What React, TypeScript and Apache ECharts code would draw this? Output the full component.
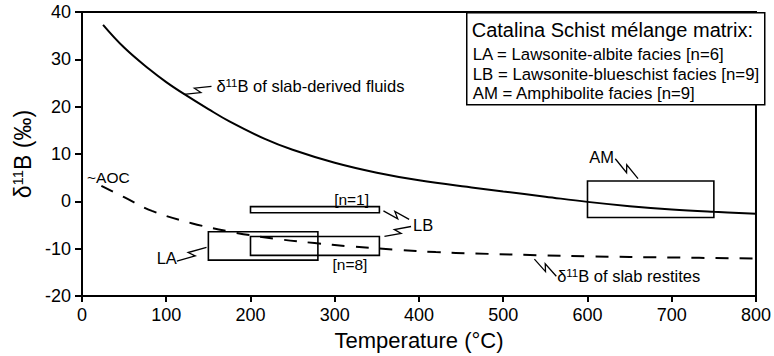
import React, { useEffect, useRef } from "react";
import * as echarts from "echarts";

const FONT = "'Liberation Sans', Arial, Helvetica, sans-serif";
const INK = "#000";

// δ11B of slab-derived fluids vs temperature
const fluidTemps = [25, 50, 80, 100, 121, 150, 175, 217, 250, 300, 350, 400, 467, 500, 550, 600, 650, 700, 750, 800];
const fluidD11B = [37.3, 32.5, 27.9, 25.2, 22.7, 19.5, 16.9, 13.2, 10.9, 8.15, 6.05, 4.45, 2.85, 2.1, 1.0, -0.1, -1.0, -1.7, -2.2, -2.6];

// δ11B of slab restites vs temperature
const restiteTemps = [23, 50, 83, 130, 182, 230, 276, 318, 373, 420, 467, 550, 600, 700, 800];
const restiteD11B = [3.3, 0.9, -2.0, -4.6, -6.6, -7.9, -8.8, -9.5, -10.2, -10.7, -11.0, -11.4, -11.6, -11.85, -12.05];

// Catalina Schist mélange matrix ranges (temperature span × δ11B span)
const boxTempMin = [150, 200, 200, 600];
const boxTempMax = [280, 353, 353, 750];
const boxD11BTop = [-6.4, -7.4, -1.1, 4.3];
const boxD11BBottom = [-12.4, -11.4, -2.4, -3.4];

// zig-zag pointer lines (start / end in temperature, δ11B)
const leaderStartT = [120.8, 537, 633, 112.6, 357.8, 359];
const leaderStartV = [22.6, -12.2, 9.0, -12.6, -2.0, -7.4];
const leaderEndT = [153.7, 563, 660, 147.8, 388.3, 390.6];
const leaderEndV = [24.3, -15.8, 4.8, -9.7, -3.8, -5.3];

// in-plot annotations
const noteTexts = [
  "{a|δ}{s|11}{a|B of slab-derived fluids}",
  "{a|δ}{s|11}{a|B of slab restites}",
  "{a|AM}",
  "{a|LA}",
  "{a|LB}",
  "{b|[n=1]}",
  "{b|[n=8]}",
  "{b|~AOC}",
];
const noteT = [159.5, 564, 602, 112.6, 393, 320, 318, 6];
const noteV = [24.3, -15.8, 9.4, -12.0, -4.9, 0.35, -13.3, 5.0];
const noteAlign = ["left", "left", "left", "right", "left", "center", "center", "left"];

// legend block lines
const legendTitle = "Catalina Schist mélange matrix:";
const legendLines = [
  "LA = Lawsonite-albite facies [n=6]",
  "LB = Lawsonite-blueschist facies [n=9]",
  "AM = Amphibolite facies [n=9]",
];

const xTicks = { min: 0, max: 800, interval: 100 };
const yTicks = { min: -20, max: 40, interval: 10 };

const noteRich = {
  a: { fontSize: 16.5, fontFamily: FONT, color: INK, lineHeight: 18 },
  s: { fontSize: 11.5, fontFamily: FONT, color: INK, lineHeight: 11, verticalAlign: "top" },
  b: { fontSize: 15.5, fontFamily: FONT, color: INK, lineHeight: 17 },
};

export default function App() {
  const ref = useRef<HTMLDivElement>(null);

  useEffect(() => {
    if (!ref.current) return;
    const chart = echarts.init(ref.current, null, { renderer: "svg" });

    const fluidData = fluidTemps.map((t, i) => [t, fluidD11B[i]]);
    const restiteData = restiteTemps.map((t, i) => [t, restiteD11B[i]]);
    const boxData = boxTempMin.map((t, i) => [t, boxTempMax[i], boxD11BTop[i], boxD11BBottom[i]]);
    const leaderData = leaderStartT.map((t, i) => [t, leaderStartV[i], leaderEndT[i], leaderEndV[i]]);
    const noteData = noteT.map((t, i) => [t, noteV[i], i]);

    chart.setOption({
      animation: false,
      grid: {
        left: 82,
        right: 10,
        top: 12,
        bottom: 59,
        show: true,
        borderColor: INK,
        borderWidth: 2,
      },
      xAxis: {
        type: "value",
        ...xTicks,
        name: "Temperature (°C)",
        nameLocation: "middle",
        nameGap: 32,
        nameTextStyle: { fontSize: 22, fontFamily: FONT, color: INK },
        axisLine: { show: true, onZero: false, lineStyle: { color: INK, width: 2 } },
        axisTick: { show: true, length: 6, lineStyle: { color: INK, width: 2 } },
        axisLabel: { fontSize: 18, margin: 10, color: INK, fontFamily: FONT },
        splitLine: { show: false },
      },
      yAxis: {
        type: "value",
        ...yTicks,
        name: "{a|δ}{s|11}{a|B (‰)}",
        nameLocation: "middle",
        nameGap: 45,
        nameTextStyle: {
          rich: {
            a: { fontSize: 23, fontFamily: FONT, color: INK, lineHeight: 26 },
            s: { fontSize: 15, fontFamily: FONT, color: INK, lineHeight: 15, verticalAlign: "top" },
          },
        },
        axisLine: { show: true, onZero: false, lineStyle: { color: INK, width: 2 } },
        axisTick: { show: true, length: 7, lineStyle: { color: INK, width: 2 } },
        axisLabel: { fontSize: 18, margin: 11, color: INK, fontFamily: FONT },
        splitLine: { show: false },
      },
      graphic: [
        {
          type: "group",
          left: 466,
          top: 12,
          children: [
            {
              type: "rect",
              shape: { x: 0, y: 0, width: 298, height: 92 },
              style: { fill: "#fff", stroke: INK, lineWidth: 1.5 },
            },
            {
              type: "text",
              x: 5,
              y: 17.7,
              style: { text: legendTitle, font: `20px ${FONT}`, fill: INK, verticalAlign: "middle" },
            },
            ...legendLines.map((line, i) => ({
              type: "text",
              x: 6,
              y: [41.8, 61.4, 80.4][i],
              style: { text: line, font: `16.8px ${FONT}`, fill: INK, verticalAlign: "middle" },
            })),
          ],
        },
      ],
      series: [
        {
          type: "line",
          data: fluidData,
          smooth: 0.4,
          showSymbol: false,
          lineStyle: { color: INK, width: 2 },
          z: 3,
        },
        {
          type: "line",
          data: restiteData,
          smooth: 0.4,
          showSymbol: false,
          lineStyle: { color: INK, width: 2, type: [13, 11] },
          z: 3,
        },
        {
          type: "custom",
          dimensions: ["t0", "t1", "v0", "v1"],
          encode: { x: [0, 1], y: [2, 3] },
          data: boxData,
          silent: true,
          z: 4,
          renderItem: (_params: any, api: any) => {
            const a = api.coord([api.value(0), api.value(2)]);
            const b = api.coord([api.value(1), api.value(3)]);
            return {
              type: "rect",
              shape: { x: a[0], y: a[1], width: b[0] - a[0], height: b[1] - a[1] },
              style: { fill: "none", stroke: INK, lineWidth: 1.6 },
            };
          },
        },
        {
          type: "custom",
          dimensions: ["t0", "v0", "t1", "v1"],
          encode: { x: [0, 2], y: [1, 3] },
          data: leaderData,
          silent: true,
          z: 4,
          renderItem: (_params: any, api: any) => {
            const p0 = api.coord([api.value(0), api.value(1)]);
            const p1 = api.coord([api.value(2), api.value(3)]);
            const dx = p1[0] - p0[0];
            const dy = p1[1] - p0[1];
            const len = Math.sqrt(dx * dx + dy * dy);
            const ux = dx / len;
            const uy = dy / len;
            const nx = -uy;
            const ny = ux;
            const h = len / 2;
            const pa = [p0[0] + ux * (h + 2.5) + nx * 3, p0[1] + uy * (h + 2.5) + ny * 3];
            const pb = [p0[0] + ux * (h - 2.5) - nx * 3, p0[1] + uy * (h - 2.5) - ny * 3];
            return {
              type: "polyline",
              shape: { points: [p0, pa, pb, p1] },
              style: { fill: "none", stroke: INK, lineWidth: 1.3 },
            };
          },
        },
        {
          type: "custom",
          dimensions: ["t", "v", "i"],
          encode: { x: 0, y: 1 },
          data: noteData,
          silent: true,
          z: 5,
          renderItem: (_params: any, api: any) => {
            const p = api.coord([api.value(0), api.value(1)]);
            const i = api.value(2);
            return {
              type: "text",
              x: p[0],
              y: p[1],
              style: {
                text: noteTexts[i],
                rich: noteRich,
                align: noteAlign[i],
                verticalAlign: "middle",
              },
            };
          },
        },
      ],
    });

    return () => chart.dispose();
  }, []);

  return (
    <div
      ref={ref}
      style={{ position: "absolute", left: 0, top: 0, width: 774, height: 356, background: "#fff" }}
    />
  );
}
